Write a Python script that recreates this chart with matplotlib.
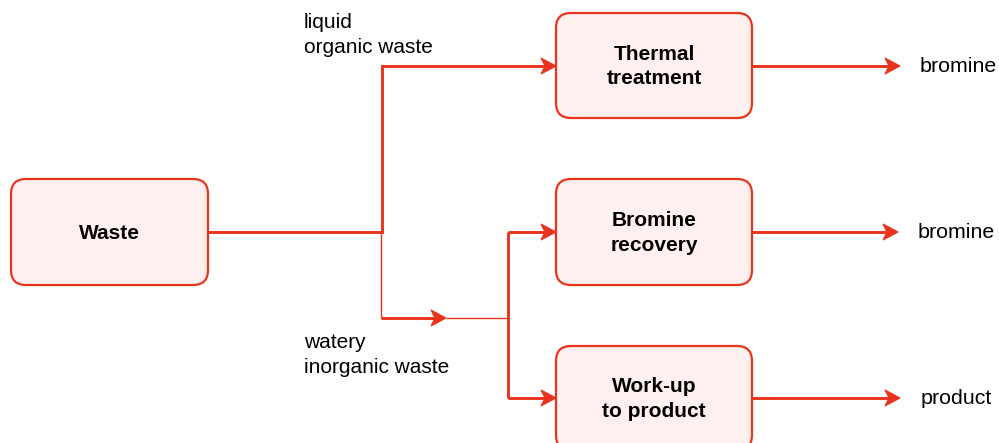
import matplotlib
matplotlib.use("Agg")
import matplotlib.pyplot as plt
from matplotlib.patches import FancyBboxPatch, Polygon

# ---- content ----
box_labels = ["Waste", "Thermal\ntreatment", "Bromine\nrecovery", "Work-up\nto product"]
stream_labels = ["liquid\norganic waste", "watery\ninorganic waste"]
output_labels = ["bromine", "bromine", "product"]

# ---- styles ----
RED = "#e8341c"
FILL = "#fff0f0"
W, H = 999, 443

fig = plt.figure(figsize=(W / 100, H / 100), dpi=100)
ax = fig.add_axes([0, 0, 1, 1])
ax.set_xlim(0, W)
ax.set_ylim(H, 0)
ax.axis("off")

# geometry (pixel layout)
boxes = [(11, 179, 197, 106), (556, 13, 196, 105), (556, 179, 196, 106), (556, 346, 196, 104)]
row_y = [66, 232, 398]


def box(x, y, w, h, text):
    p = FancyBboxPatch((x, y), w, h, boxstyle="round,pad=0,rounding_size=15",
                       fc=FILL, ec=RED, lw=1.6, zorder=2)
    ax.add_patch(p)
    ax.text(x + w / 2, y + h / 2 + 1, text, ha="center", va="center",
            fontsize=15, fontweight="bold", family="Liberation Sans",
            linespacing=1.35, zorder=3)


def line(xs, ys, lw=2.1):
    ax.plot(xs, ys, color=RED, lw=lw, solid_capstyle="butt",
            solid_joinstyle="miter", zorder=1)


def head(xt, yt, L=15, hw=8, notch=4):
    pts = [(xt, yt), (xt - L, yt - hw), (xt - L + notch, yt), (xt - L, yt + hw)]
    ax.add_patch(Polygon(pts, closed=True, fc=RED, ec=RED, lw=0.8, zorder=4))


for (x, y, w, h), t in zip(boxes, box_labels):
    box(x, y, w, h, t)

# Waste -> Thermal treatment
line([208, 382, 382, 550], [232, 232, row_y[0], row_y[0]])
head(556, row_y[0])

# branch down to watery stream
line([381, 381], [232, 318], lw=1.0)
line([381, 440], [318, 318])
head(446, 318)
line([446, 508], [318, 318], lw=1.0)
line([508, 508], [row_y[1], row_y[2]])
line([508, 550], [row_y[1], row_y[1]])
head(556, row_y[1])
line([508, 550], [row_y[2], row_y[2]])
head(556, row_y[2])

# outputs
out_tips = [900, 898, 900]
out_text_x = [920, 918, 921]
for y, xt, tx, lab in zip(row_y, out_tips, out_text_x, output_labels):
    line([752, xt - 6], [y, y])
    head(xt, y)
    ax.text(tx, y, lab, ha="left", va="center", fontsize=15.4, family="Liberation Sans")

# stream labels
ax.text(304, 35, stream_labels[0], ha="left", va="center", fontsize=15,
        family="Liberation Sans", linespacing=1.45)
ax.text(304, 355, stream_labels[1], ha="left", va="center", fontsize=15,
        family="Liberation Sans", linespacing=1.45)

fig.savefig("out.png", dpi=100)
